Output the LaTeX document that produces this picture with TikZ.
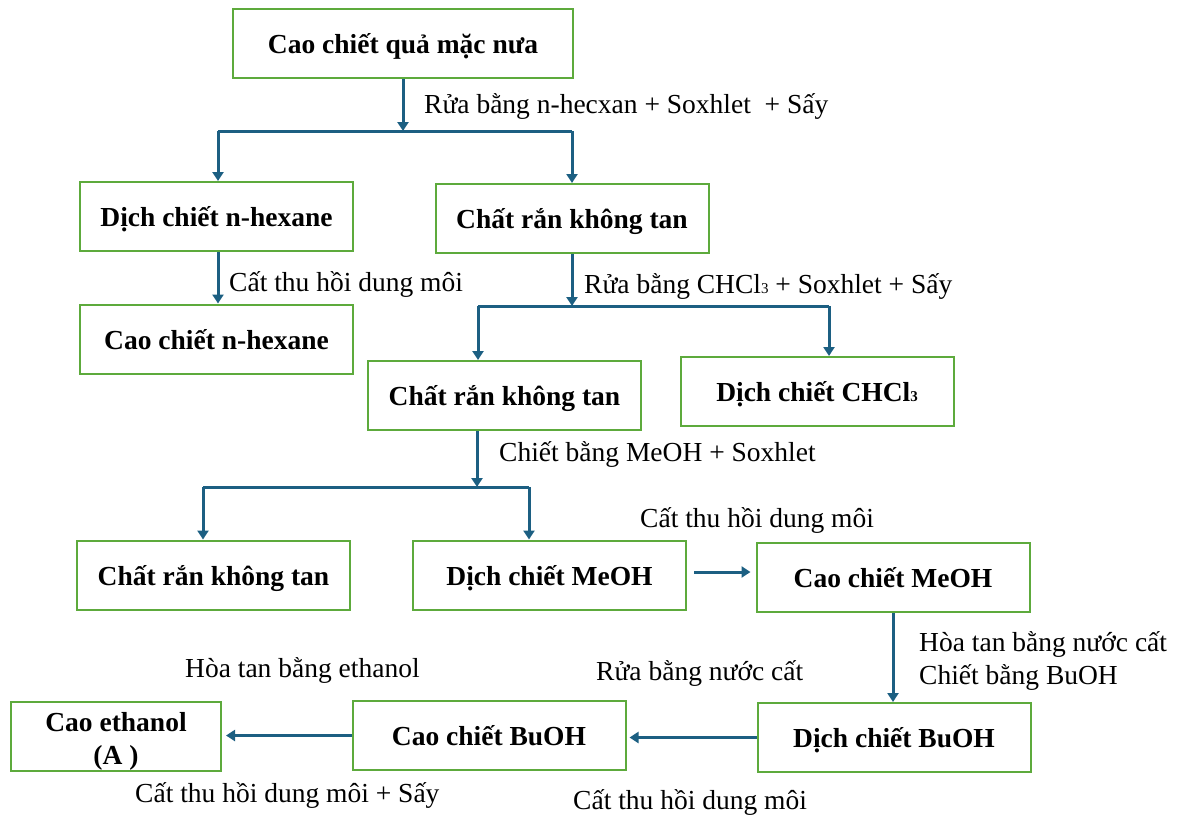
\documentclass[tikz,border=0pt]{standalone}
\usepackage{fontspec}
\setmainfont{Liberation Serif}
\usetikzlibrary{arrows.meta}
\definecolor{boxgreen}{HTML}{5DAA3C}
\definecolor{flowblue}{HTML}{1C5F82}
\newcommand{\subthree}{{\fontsize{15}{15}\selectfont 3}}
\begin{document}
\begin{tikzpicture}[x=1pt,y=-1pt,
  stagefont/.style={font=\fontsize{27.5}{33}\selectfont\bfseries},
  stage/.style={draw=boxgreen, line width=2pt, inner sep=0pt,
    minimum width=273pt, minimum height=69pt, align=center,
    text height=26pt, text depth=6pt, stagefont},
  note/.style={anchor=base west, inner sep=0pt, font=\fontsize{27.5}{32}\selectfont},
  flow/.style={draw=flowblue, line width=3pt},
  flowarrow/.style={flow, -{Triangle[width=11pt,length=9pt]}}]
\useasboundingbox (0,0) rectangle (1177,814);

% stages of the extraction
\node[stage, minimum width=340pt] (b1) at (403,43.5) {Cao chiết quả mặc nưa};
\node[stage] (b2) at (216.5,216.5) {Dịch chiết n-hexane};
\node[stage] (b3) at (572,218.5) {Chất rắn không tan};
\node[stage] (b4) at (216.5,339) {Cao chiết n-hexane};
\node[stage] (b5) at (504.5,395.5) {Chất rắn không tan};
\node[stage] (b6) at (817,391.5) {Dịch chiết CHCl\subthree};
\node[stage] (b7) at (213.5,575) {Chất rắn không tan};
\node[stage] (b8) at (549.5,575) {Dịch chiết MeOH};
\node[stage] (b9) at (893,577.5) {Cao chiết MeOH};
\node[stage] (b10) at (894,737.5) {Dịch chiết BuOH};
\node[stage] (b11) at (489,735.5) {Cao chiết BuOH};
\node[stage, minimum width=210pt, text height={}, text depth={},
  label={[stagefont, align=center, yshift=-5pt]center:Cao ethanol\\(A )}]
  (b12) at (116,736.5) {};

% branch points
\coordinate (j1) at (403,131);
\coordinate (j1l) at (218,131);
\coordinate (j1r) at (572,131);
\coordinate (j2) at (572,306);
\coordinate (j2l) at (478,306);
\coordinate (j2r) at (829,306);
\coordinate (j3) at (477,487);
\coordinate (j3l) at (203,487);
\coordinate (j3r) at (529,487);

% n-hexane step
\draw[flowarrow] (b1.south) -- (j1);
\draw[flow] (j1l) -- (j1r);
\draw[flowarrow] (j1l) -- (j1l |- b2.north);
\draw[flowarrow] (j1r) -- (j1r |- b3.north);
\draw[flowarrow] (j1l |- b2.south) -- (j1l |- b4.north);

% chloroform step
\draw[flowarrow] (b3.south) -- (j2);
\draw[flow] (j2l) -- (j2r);
\draw[flowarrow] (j2l) -- (j2l |- b5.north);
\draw[flowarrow] (j2r) -- (j2r |- b6.north);

% methanol step
\draw[flowarrow] (j3 |- b5.south) -- (j3);
\draw[flow] (j3l) -- (j3r);
\draw[flowarrow] (j3l) -- (j3l |- b7.north);
\draw[flowarrow] (j3r) -- (j3r |- b8.north);
\draw[flowarrow] ([xshift=7pt,yshift=3pt]b8.east) -- ([xshift=-5pt,yshift=5.5pt]b9.west);

% butanol and ethanol steps
\draw[flowarrow] (b9.south) -- (b9.south |- b10.north);
\draw[flowarrow, shorten >=3pt] (b10.west) -- (b10.west -| b11.east);
\draw[flowarrow, shorten >=4pt] (b11.west) -- (b11.west -| b12.east);

% step labels
\node[note] (l1) at (424,113) {Rửa bằng n-hecxan + Soxhlet \ + Sấy};
\node[note] (l2) at (229,291) {Cất thu hồi dung môi};
\node[note] (l3) at (584,293) {Rửa bằng CHCl\subthree{} + Soxhlet + Sấy};
\node[note] (l4) at (499,461) {Chiết bằng MeOH + Soxhlet};
\node[note] (l5) at (640,527) {Cất thu hồi dung môi};
\node[note] (l6) at (919,651) {Hòa tan bằng nước cất};
\node[note] (l7) at (919,684) {Chiết bằng BuOH};
\node[note] (l8) at (596,680) {Rửa bằng nước cất};
\node[note] (l9) at (573,809) {Cất thu hồi dung môi};
\node[note] (l10) at (185,677) {Hòa tan bằng ethanol};
\node[note] (l11) at (135,802) {Cất thu hồi dung môi + Sấy};
\end{tikzpicture}
\end{document}
